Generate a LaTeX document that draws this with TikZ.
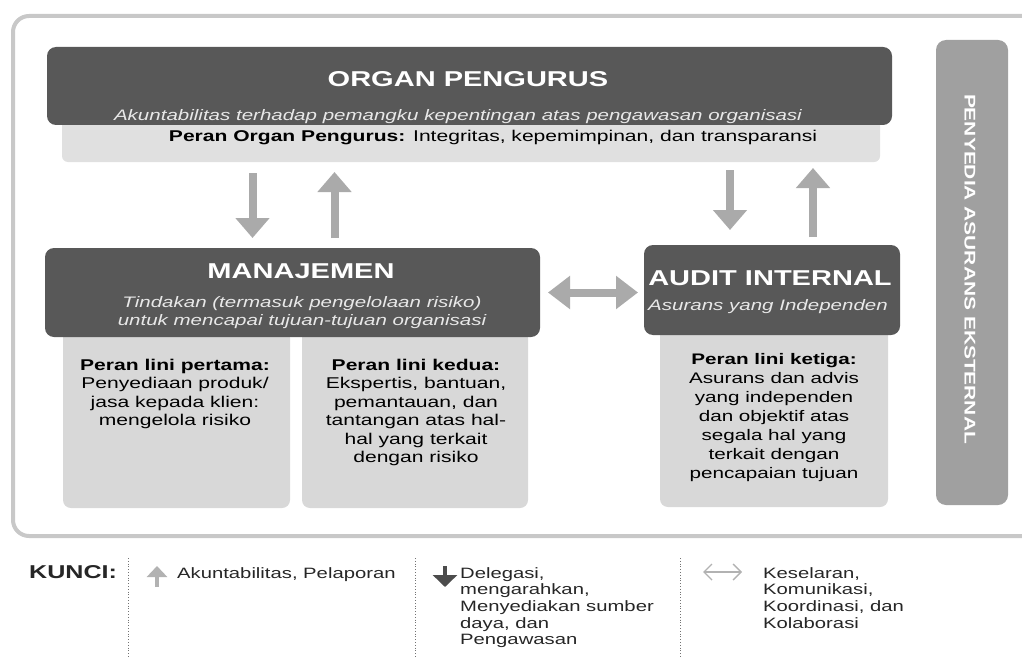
\documentclass[tikz,border=0pt]{standalone}
\usepackage{fontspec}
\setmainfont{Liberation Sans}[FakeStretch=1.35]
\usepackage{tikz}
\usetikzlibrary{arrows.meta}

\definecolor{boxdark}{RGB}{88,88,88}
\definecolor{boxlight}{RGB}{216,216,216}
\definecolor{bandgray}{RGB}{224,224,224}
\definecolor{bargray}{RGB}{160,160,160}
\definecolor{arrowgray}{RGB}{170,170,170}
\definecolor{framegray}{RGB}{200,200,200}
\definecolor{subwhite}{RGB}{232,232,232}

\newcommand{\ttlfont}{\bfseries\fontsize{21.5pt}{24pt}\selectfont}
\newcommand{\subtfont}{\itshape\fontsize{15.2pt}{18pt}\selectfont}
\newcommand{\rolefont}{\fontsize{15.6pt}{18.5pt}\selectfont}
\newcommand{\keytxtfont}{\fontsize{15pt}{16.7pt}\selectfont}

\tikzset{
	framebox/.style={draw=framegray, line width=4pt, fill=white, rounded corners=16pt},
	darkbox/.style={fill=boxdark, rounded corners=9pt, inner sep=0pt, outer sep=0pt},
	rolebox/.style={fill=boxlight, rounded corners=8pt, inner sep=0pt, outer sep=0pt},
	bandbox/.style={fill=bandgray, rounded corners=6pt, inner sep=0pt, outer sep=0pt},
	barbox/.style={fill=bargray, rounded corners=10pt, inner sep=0pt, outer sep=0pt},
	titletext/.style={font=\ttlfont, text=white, inner sep=0pt},
	subtext/.style={font=\subtfont, text=subwhite, inner sep=0pt},
	roletext/.style={font=\rolefont, inner sep=0pt, align=center},
	bartext/.style={font=\bfseries\fontsize{15.5pt}{18pt}\selectfont, text=white, inner sep=0pt},
	keytext/.style={font=\keytxtfont, text=black!85, inner sep=0pt},
	bigarrow/.style={draw=arrowgray, line width=8pt, -{Triangle[width=33pt,length=20pt]}},
	twoway/.style={{Triangle[width=32pt,length=22pt]}-{Triangle[width=32pt,length=22pt]}},
	sepline/.style={draw=black!55, line width=0.8pt, dotted},
	keyup/.style={draw=black!30, line width=3.5pt, -{Triangle[width=20pt,length=11pt]}},
	keydown/.style={draw=black!70, line width=4.5pt, -{Triangle[width=24pt,length=12pt]}},
	keyboth/.style={draw=black!30, line width=1.4pt, {Straight Barb[width=16pt,length=8pt]}-{Straight Barb[width=16pt,length=8pt]}}
}

\begin{document}
\begin{tikzpicture}[x=1pt,y=-1pt]
	\useasboundingbox (0,0) rectangle (1022,658);
	\clip (0,0) rectangle (1022,658);
	\draw[framebox] (13,16) rectangle (1040,536);

	\node[bandbox, minimum width=818pt, minimum height=52pt, anchor=north west] (organband) at (62,110) {};
	\node[darkbox, minimum width=845pt, minimum height=78pt, anchor=north west] (organ) at (47,47) {};
	\node[titletext, anchor=base] (organtitle) at (468,87) {ORGAN PENGURUS};
	\node[subtext, anchor=base] (organsub) at (458,121) {Akuntabilitas terhadap pemangku kepentingan atas pengawasan organisasi};
	\node[roletext, anchor=base] (organrole) at (493,141) {\textbf{Peran Organ Pengurus:} Integritas, kepemimpinan, dan transparansi};

	\node[rolebox, minimum width=227pt, minimum height=178pt, anchor=north west] (first) at (63,330) {};
	\node[rolebox, minimum width=226pt, minimum height=178pt, anchor=north west] (second) at (302,330) {};
	\node[darkbox, minimum width=495pt, minimum height=89pt, anchor=north west] (manaj) at (45,248) {};
	\node[titletext, anchor=base] (manajtitle) at (301,278) {MANAJEMEN};
	\node[subtext, anchor=north, align=center] (manajsub) at (302,296) {Tindakan (termasuk pengelolaan risiko)\\untuk mencapai tujuan-tujuan organisasi};
	\node[roletext, anchor=north] (firsttext) at (175,358.5) {\textbf{Peran lini pertama:}\\Penyediaan produk/\\jasa kepada klien:\\mengelola risiko};
	\node[roletext, anchor=north] (secondtext) at (416,358.5) {\textbf{Peran lini kedua:}\\Ekspertis, bantuan,\\pemantauan, dan\\tantangan atas hal-\\hal yang terkait\\dengan risiko};

	\node[rolebox, minimum width=228pt, minimum height=182pt, anchor=north west] (third) at (660,325) {};
	\node[darkbox, minimum width=256pt, minimum height=90pt, anchor=north west] (audit) at (644,245) {};
	\node[titletext, anchor=base] (audittitle) at (770,285) {AUDIT INTERNAL};
	\node[subtext, anchor=base] (auditsub) at (768,310) {Asurans yang Independen};
	\node[roletext, anchor=north, font=\fontsize{15.3pt}{19pt}\selectfont] (thirdtext) at (774,353.5) {\textbf{Peran lini ketiga:}\\Asurans dan advis\\yang independen\\dan objektif atas\\segala hal yang\\terkait dengan\\pencapaian tujuan};

	\node[barbox, minimum width=72pt, minimum height=465pt, anchor=north west] (external) at (936,40) {};
	\node[bartext, rotate=-90] (externaltext) at (970,269) {PENYEDIA ASURANS EKSTERNAL};

	\coordinate (mdown) at ([xshift=-40pt]manaj.north);
	\coordinate (mup) at ([xshift=42pt]manaj.north);
	\coordinate (adown) at ([xshift=-42pt]audit.north);
	\coordinate (aup) at ([xshift=41pt]audit.north);
	\draw[bigarrow, shorten <=11pt, shorten >=10pt] (mdown |- organband.south) -- (mdown);
	\draw[bigarrow, shorten <=10pt, shorten >=10pt] (mup) -- (mup |- organband.south);
	\draw[bigarrow, shorten <=8pt, shorten >=15pt] (adown |- organband.south) -- (adown);
	\draw[bigarrow, shorten <=8pt, shorten >=6pt] (aup) -- (aup |- organband.south);
	\draw[bigarrow, twoway, shorten <=8pt, shorten >=6pt] (manaj.east) -- (manaj.east -| audit.west);

	\node[font=\bfseries\fontsize{18.6pt}{20pt}\selectfont, text=black!85, inner sep=0pt, anchor=base west] (kunci) at (29,578) {KUNCI:};
	\draw[sepline] (128,558) -- (128,658);
	\draw[sepline] (415,558) -- (415,658);
	\draw[sepline] (680,558) -- (680,658);
	\coordinate (kupfoot) at (157,587);
	\coordinate (kuphead) at (157,566);
	\draw[keyup] (kupfoot) -- (kuphead);
	\node[keytext, anchor=base west] (kupdesc) at (177,578) {Akuntabilitas, Pelaporan};
	\coordinate (kdowntop) at (445,566);
	\coordinate (kdowntip) at (445,587);
	\draw[keydown] (kdowntop) -- (kdowntip);
	\node[keytext, anchor=north west, align=left] (kdowndesc) at (460,567) {Delegasi,\\mengarahkan,\\Menyediakan sumber\\daya, dan\\Pengawasan};
	\coordinate (kbothl) at (703,572);
	\coordinate (kbothr) at (742,572);
	\draw[keyboth] (kbothl) -- (kbothr);
	\node[keytext, anchor=north west, align=left] (kbothdesc) at (763,567) {Keselaran,\\Komunikasi,\\Koordinasi, dan\\Kolaborasi};
\end{tikzpicture}
\end{document}
